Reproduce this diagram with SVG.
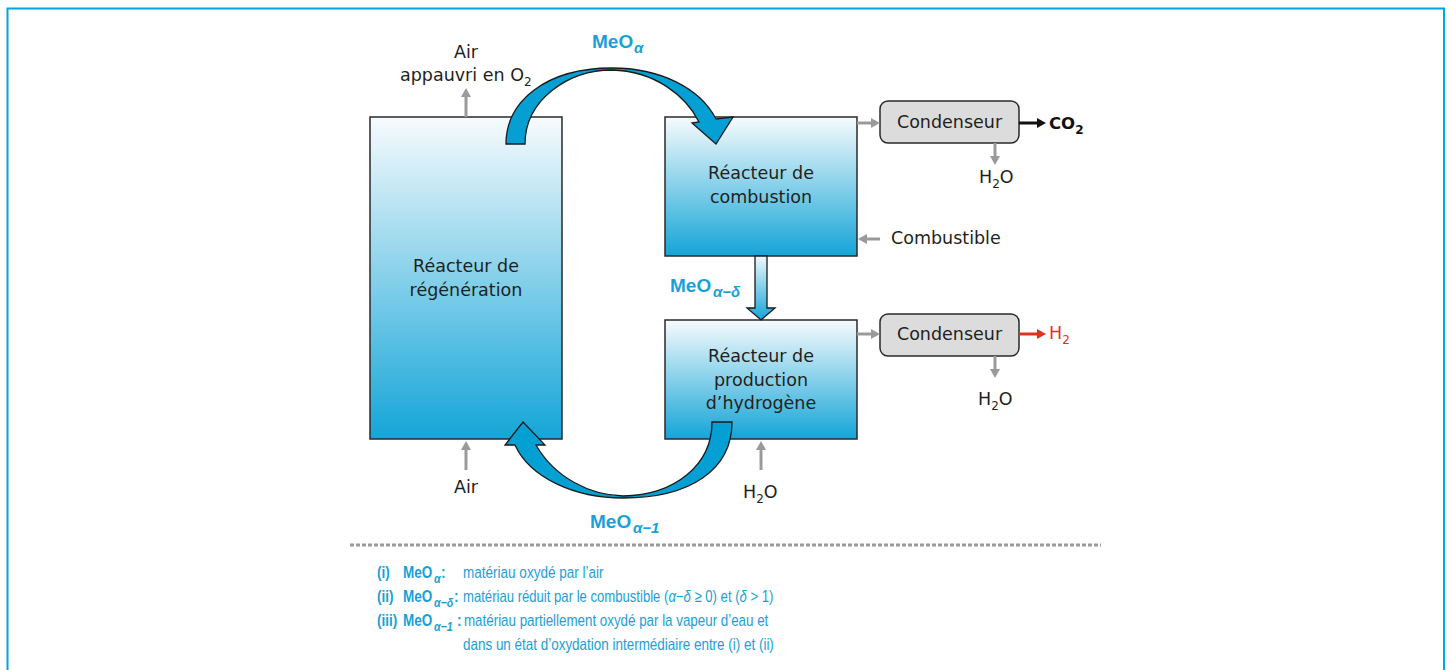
<svg xmlns="http://www.w3.org/2000/svg" width="1451" height="670" viewBox="0 0 1451 670">
<style>
.t{font-family:"DejaVu Sans","Liberation Sans",sans-serif;font-size:17.5px;fill:#231f20}
.sub{font-size:12px}
.mb{font-family:"Liberation Sans",Arial,sans-serif;font-weight:bold;font-size:19px;fill:#19a1d6}
.ms{font-family:"Liberation Sans",Arial,sans-serif;font-style:italic;font-weight:bold;font-size:15px;fill:#19a1d6}
.lg{font-family:"Liberation Sans",Arial,sans-serif;font-size:16.5px;fill:#19a1d6}
.lb{font-family:"Liberation Sans",Arial,sans-serif;font-size:16.5px;font-weight:bold;fill:#19a1d6}
.ls{font-family:"Liberation Sans",Arial,sans-serif;font-size:13px;font-weight:bold;font-style:italic;fill:#19a1d6}
.it{font-style:italic}
.reac{stroke:#2a2a2a;stroke-width:1.5;fill:url(#gr)}
.cond{fill:#dcdcdc;stroke:#2a2a2a;stroke-width:1.5}
.band{fill:#05a0d3;stroke:#1a1a1a;stroke-width:1.3;stroke-linejoin:miter}
.g{stroke:#9a9a9a;stroke-width:3;fill:none}
</style>
<defs>
<linearGradient id="gr" x1="0" y1="0" x2="0" y2="1">
<stop offset="0" stop-color="#f7fbfd"/>
<stop offset="1" stop-color="#14a5d7"/>
</linearGradient>
<linearGradient id="gv" x1="0" y1="0" x2="0" y2="1">
<stop offset="0" stop-color="#eef8fc"/>
<stop offset="1" stop-color="#14a5d7"/>
</linearGradient>
<marker id="ag" viewBox="0 0 9 10" refX="2" refY="5" markerWidth="9" markerHeight="10" orient="auto" markerUnits="userSpaceOnUse"><path d="M0,0 L9,5 L0,10 Z" fill="#9a9a9a"/></marker>
<marker id="ak" viewBox="0 0 9 10" refX="2" refY="5" markerWidth="9" markerHeight="10" orient="auto" markerUnits="userSpaceOnUse"><path d="M0,0 L9,5 L0,10 Z" fill="#111"/></marker>
<marker id="ar" viewBox="0 0 9 10" refX="2" refY="5" markerWidth="9" markerHeight="10" orient="auto" markerUnits="userSpaceOnUse"><path d="M0,0 L9,5 L0,10 Z" fill="#e2321f"/></marker>
</defs>
<rect width="1451" height="670" fill="#fff"/>
<path d="M7.5,670 V8.5 H1444 V670" fill="none" stroke="#00a6df" stroke-width="2"/>

<g id="regeneration">
<rect class="reac" x="370" y="117" width="192" height="322"/>
<text class="t" x="466" y="272" text-anchor="middle">Réacteur de</text>
<text class="t" x="466" y="296" text-anchor="middle">régénération</text>
</g>
<g id="combustion">
<rect class="reac" x="665" y="117" width="192" height="139"/>
<text class="t" x="761" y="179" text-anchor="middle">Réacteur de</text>
<text class="t" x="761" y="203" text-anchor="middle">combustion</text>
</g>
<g id="hydrogene">
<rect class="reac" x="665" y="320" width="192" height="119"/>
<text class="t" x="761" y="362" text-anchor="middle">Réacteur de</text>
<text class="t" x="761" y="386" text-anchor="middle">production</text>
<text class="t" x="761" y="409" text-anchor="middle">d’hydrogène</text>
</g>
<g id="condenseur1">
<rect class="cond" x="880" y="101" width="139" height="42" rx="8"/>
<text class="t" x="949.5" y="128" text-anchor="middle">Condenseur</text>
</g>
<g id="condenseur2">
<rect class="cond" x="880" y="314" width="139" height="42" rx="8"/>
<text class="t" x="949.5" y="340" text-anchor="middle">Condenseur</text>
</g>

<g id="connectors">
<path class="band" d="M506,144 C506,102 545,68 612,68 C660,68 700,88 716,119 L733,117 L716,144 L692,123 L699,122 C686,96 655,71 612,70 C568,70 525,100 525,144 Z"/>
<path class="band" d="M712,422 L732,422 C732,470 690,498 623,498 C575,498 530,478 515,445 L505,445 L523,422 L545,445 L536,445 C555,478 590,495 623,496 C675,495 712,465 712,422 Z"/>
<path d="M755,256 L767,256 L767,308 L775,308 L761,320 L747,308 L755,308 Z" fill="url(#gv)" stroke="#1a1a1a" stroke-width="1.3"/>
<line class="g" x1="466" y1="117" x2="466" y2="95" marker-end="url(#ag)"/>
<line class="g" x1="466" y1="470" x2="466" y2="448" marker-end="url(#ag)"/>
<line class="g" x1="761" y1="470" x2="761" y2="448" marker-end="url(#ag)"/>
<line class="g" x1="880" y1="239" x2="865" y2="239" marker-end="url(#ag)"/>
<line class="g" x1="857" y1="123" x2="873" y2="123" marker-end="url(#ag)"/>
<line class="g" x1="857" y1="334" x2="873" y2="334" marker-end="url(#ag)"/>
<line class="g" x1="995" y1="143" x2="995" y2="158" marker-end="url(#ag)"/>
<line class="g" x1="995" y1="356" x2="995" y2="371" marker-end="url(#ag)"/>
<line x1="1019" y1="123" x2="1039" y2="123" stroke="#111" stroke-width="3" marker-end="url(#ak)"/>
<line x1="1019" y1="334" x2="1039" y2="334" stroke="#e2321f" stroke-width="3" marker-end="url(#ar)"/>
</g>

<g id="labels">
<text class="t" x="466" y="58" text-anchor="middle">Air</text>
<text class="t" x="400" y="81">appauvri en O<tspan class="sub" dy="5">2</tspan></text>
<text class="t" x="466" y="493" text-anchor="middle">Air</text>
<text class="t" x="743" y="498">H<tspan class="sub" dy="5">2</tspan><tspan dy="-5">O</tspan></text>
<text class="t" x="979" y="183">H<tspan class="sub" dy="5">2</tspan><tspan dy="-5">O</tspan></text>
<text class="t" x="978" y="405">H<tspan class="sub" dy="5">2</tspan><tspan dy="-5">O</tspan></text>
<text class="t" x="891" y="244">Combustible</text>
<text x="1049" y="129" font-family="DejaVu Sans, sans-serif" font-weight="bold" font-size="16.5" fill="#111">CO<tspan font-size="12" dy="5">2</tspan></text>
<text class="t" x="1049" y="339" style="fill:#e2321f">H<tspan class="sub" dy="5">2</tspan></text>
<text class="mb" x="592" y="48">MeO</text><text class="ms" x="634" y="53">α</text>
<text class="mb" x="670" y="292">MeO</text><text class="ms" x="713" y="297">α−δ</text>
<text class="mb" x="590" y="528">MeO</text><text class="ms" x="633" y="533">α−1</text>
</g>

<g id="legende">
<line x1="350" y1="545" x2="1101" y2="545" stroke="#9a9a9a" stroke-width="3" stroke-dasharray="4 2"/>
<text class="lb" transform="translate(377,578) scale(0.82,1)">(i)</text>
<text class="lb" transform="translate(403,578) scale(0.82,1)">MeO</text>
<text class="ls" transform="translate(434,583) scale(0.82,1)">α</text>
<text class="lb" transform="translate(441,578) scale(0.82,1)">:</text>
<text class="lg" transform="translate(463,578) scale(0.82,1)">matériau oxydé par l’air</text>
<text class="lb" transform="translate(377,602) scale(0.82,1)">(ii)</text>
<text class="lb" transform="translate(403,602) scale(0.82,1)">MeO</text>
<text class="ls" transform="translate(434,607) scale(0.82,1)">α−δ</text>
<text class="lb" transform="translate(454,602) scale(0.82,1)">:</text>
<text class="lg" transform="translate(463,602) scale(0.795,1)">matériau réduit par le combustible (<tspan class="it">α</tspan>−<tspan class="it">δ</tspan> ≥ 0) et (<tspan class="it">δ</tspan> &gt; 1)</text>
<text class="lb" transform="translate(377,626) scale(0.82,1)">(iii)</text>
<text class="lb" transform="translate(403,626) scale(0.82,1)">MeO</text>
<text class="ls" transform="translate(434,631) scale(0.82,1)">α−1</text>
<text class="lb" transform="translate(457,626) scale(0.82,1)">:</text>
<text class="lg" transform="translate(464,626) scale(0.81,1)">matériau partiellement oxydé par la vapeur d’eau et</text>
<text class="lg" transform="translate(463,650) scale(0.815,1)">dans un état d’oxydation intermédiaire entre (i) et (ii)</text>
</g>
</svg>
